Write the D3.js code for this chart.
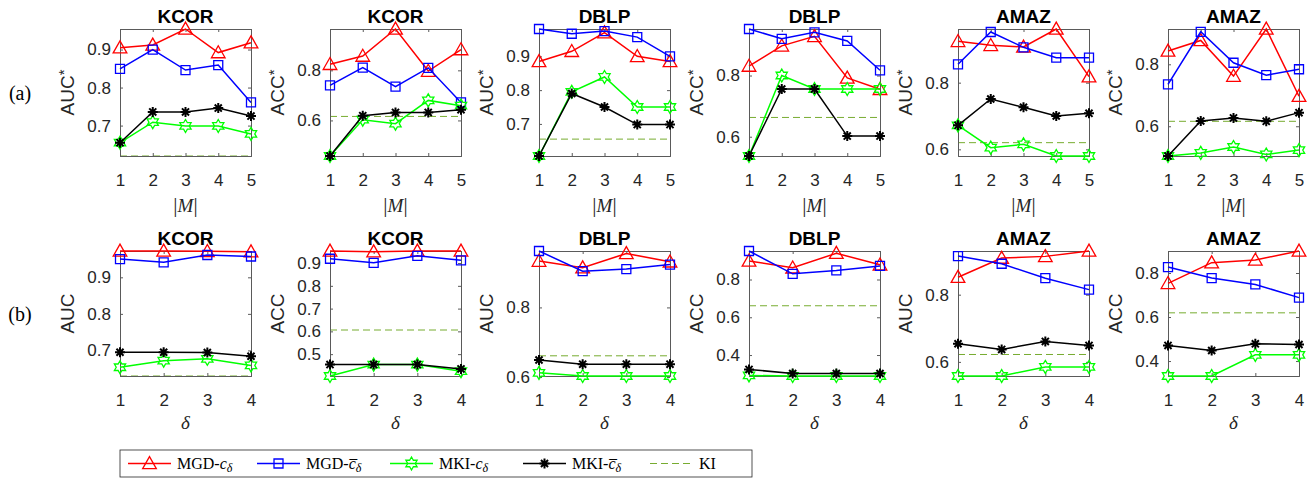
<!DOCTYPE html>
<html lang="en">
<head>
<meta charset="utf-8">
<title>MGD vs MKI</title>
<script src="https://d3js.org/d3.v7.min.js"></script>
<style>
  body { margin: 0; background: #fff; }
  text { font-family: "Liberation Sans", Arial, sans-serif; }
  .ttl { font-size: 19px; font-weight: bold; fill: #000; }
  .serif { font-family: "Liberation Serif", "Times New Roman", serif; }
</style>
</head>
<body>
<div id="container"></div>
<script>
// titles / labels
var titles = ["KCOR", "KCOR", "DBLP", "DBLP", "AMAZ", "AMAZ"];
var yLabelsA = ["AUC", "ACC", "AUC", "ACC", "AUC", "ACC"];
var mSizes = [1, 2, 3, 4, 5];
var deltas = [1, 2, 3, 4];

// y tick values per panel
var yTicksA = [[0.7, 0.8, 0.9], [0.6, 0.8], [0.7, 0.8, 0.9], [0.6, 0.8], [0.6, 0.8], [0.6, 0.8]];
var yTicksB = [[0.7, 0.8, 0.9], [0.5, 0.6, 0.7, 0.8, 0.9], [0.6, 0.8], [0.4, 0.6, 0.8], [0.6, 0.8], [0.4, 0.6, 0.8]];

// row (a): values vs |M|
var aMgdC = [
  [0.905, 0.912, 0.954, 0.892, 0.918],
  [0.824, 0.857, 0.965, 0.797, 0.883],
  [0.885, 0.915, 0.970, 0.900, 0.885],
  [0.831, 0.897, 0.928, 0.792, 0.755],
  [0.924, 0.912, 0.907, 0.961, 0.818],
  [0.843, 0.877, 0.762, 0.914, 0.697]
];
var aMgdCbar = [
  [0.849, 0.900, 0.846, 0.859, 0.761],
  [0.740, 0.811, 0.735, 0.810, 0.672],
  [0.981, 0.967, 0.975, 0.957, 0.900],
  [0.952, 0.920, 0.941, 0.913, 0.817],
  [0.855, 0.952, 0.906, 0.875, 0.875],
  [0.735, 0.905, 0.805, 0.765, 0.784]
];
var aMkiC = [
  [0.655, 0.709, 0.699, 0.699, 0.678],
  [0.458, 0.603, 0.587, 0.680, 0.659],
  [0.605, 0.795, 0.839, 0.750, 0.750],
  [0.537, 0.800, 0.756, 0.756, 0.756],
  [0.672, 0.605, 0.615, 0.580, 0.580],
  [0.504, 0.514, 0.533, 0.509, 0.523]
];
var aMkiCbar = [
  [0.655, 0.736, 0.736, 0.746, 0.725],
  [0.458, 0.619, 0.632, 0.632, 0.643],
  [0.605, 0.790, 0.750, 0.698, 0.698],
  [0.537, 0.756, 0.756, 0.602, 0.602],
  [0.672, 0.751, 0.726, 0.700, 0.708],
  [0.504, 0.617, 0.627, 0.616, 0.644]
];
var aKI = [0.620, 0.616, 0.655, 0.663, 0.620, 0.616];

// row (b): values vs delta
var bMgdC = [
  [0.972, 0.972, 0.971, 0.970],
  [0.953, 0.950, 0.953, 0.953],
  [0.933, 0.914, 0.955, 0.931],
  [0.898, 0.862, 0.939, 0.878],
  [0.852, 0.909, 0.914, 0.930],
  [0.753, 0.847, 0.859, 0.900]
];
var bMgdCbar = [
  [0.950, 0.941, 0.961, 0.957],
  [0.919, 0.901, 0.932, 0.912],
  [0.962, 0.904, 0.910, 0.923],
  [0.951, 0.830, 0.848, 0.872],
  [0.915, 0.892, 0.849, 0.815],
  [0.827, 0.777, 0.748, 0.688]
];
var bMkiC = [
  [0.654, 0.672, 0.677, 0.659],
  [0.404, 0.454, 0.454, 0.425],
  [0.612, 0.603, 0.603, 0.603],
  [0.292, 0.289, 0.289, 0.289],
  [0.558, 0.558, 0.585, 0.585],
  [0.332, 0.332, 0.428, 0.428]
];
var bMkiCbar = [
  [0.695, 0.695, 0.694, 0.684],
  [0.454, 0.454, 0.454, 0.435],
  [0.649, 0.637, 0.637, 0.637],
  [0.324, 0.302, 0.302, 0.302],
  [0.654, 0.637, 0.661, 0.649],
  [0.471, 0.448, 0.478, 0.475]
];
var bKI = [0.630, 0.606, 0.661, 0.661, 0.622, 0.619];

var w = 1315, h = 481;
var svg = d3.select("#container").append("svg")
  .attr("width", w).attr("height", h)
  .style("background-color", "#fff");

var panelW = 131;
var axisColor = "#5a5a5a";
var rows = [
  { top: 29, bottom: 156, xs: mSizes, ticks: yTicksA, star: true, tag: "(a)",
    series: [aMgdC, aMgdCbar, aMkiC, aMkiCbar], ki: aKI },
  { top: 251, bottom: 376, xs: deltas, ticks: yTicksB, star: false, tag: "(b)",
    series: [bMgdC, bMgdCbar, bMkiC, bMkiCbar], ki: bKI }
];

// marker shapes
function triPath(s) {
  var r = s / 2;
  return "M0," + (-r * 1.05) + "L" + (r * 1.05) + "," + (r * 0.8) + "L" + (-r * 1.05) + "," + (r * 0.8) + "Z";
}
function sqPath(s) {
  var r = s / 2;
  return "M" + (-r) + "," + (-r) + "H" + r + "V" + r + "H" + (-r) + "Z";
}
function hexPath(s) {
  var ro = s / 2, ri = ro * 0.577, p = [];
  for (var i = 0; i < 12; i++) {
    var a = -Math.PI / 2 + i * Math.PI / 6, r = i % 2 ? ri : ro;
    p.push([r * Math.cos(a), r * Math.sin(a)]);
  }
  return "M" + p.map(function (d) { return d[0].toFixed(2) + "," + d[1].toFixed(2); }).join("L") + "Z";
}
function astPath(s) {
  var r = s / 2, d = "";
  for (var i = 0; i < 4; i++) {
    var a = i * Math.PI / 4;
    d += "M" + (r * Math.cos(a)).toFixed(2) + "," + (r * Math.sin(a)).toFixed(2) +
         "L" + (-r * Math.cos(a)).toFixed(2) + "," + (-r * Math.sin(a)).toFixed(2);
  }
  return d;
}

var styles = [
  { color: "#ff0000", marker: triPath, size: 13, mw: 1.3 },
  { color: "#0000ff", marker: sqPath, size: 9, mw: 1.3 },
  { color: "#00ff00", marker: hexPath, size: 13, mw: 1.3 },
  { color: "#000000", marker: astPath, size: 10, mw: 2 }
];
var kiColor = "#77ac30";

rows.forEach(function (row, ri) {
  svg.append("text").attr("class", "serif")
    .attr("x", 20).attr("y", (row.top + row.bottom) / 2 + 7)
    .attr("text-anchor", "middle").style("font-size", "20px").text(row.tag);

  titles.forEach(function (t, pi) {
    var left = Math.round(120 + pi * 209.5);
    var g = svg.append("g").attr("transform", "translate(" + left + ",0)");
    var all = [row.ki[pi]];
    row.series.forEach(function (s) { all = all.concat(s[pi]); });
    var y = d3.scaleLinear().domain(d3.extent(all)).range([row.bottom, row.top]);
    var x = d3.scaleLinear().domain(d3.extent(row.xs)).range([0, panelW]);

    // KI dashed line
    g.append("line")
      .attr("x1", 0).attr("x2", panelW)
      .attr("y1", y(row.ki[pi])).attr("y2", y(row.ki[pi]))
      .attr("stroke", kiColor).attr("stroke-width", 1)
      .attr("stroke-dasharray", "7,4");

    // axes box
    var yAxis = d3.axisLeft(y).tickValues(row.ticks[pi]).tickSize(-3).tickPadding(9)
      .tickFormat(d3.format(".1f"));
    var yAxisR = d3.axisRight(y).tickValues(row.ticks[pi]).tickSize(-3).tickFormat("");
    var xAxis = d3.axisBottom(x).tickValues(row.xs).tickSize(-3).tickPadding(18)
      .tickFormat(d3.format("d"));
    var xAxisT = d3.axisTop(x).tickValues(row.xs).tickSize(-3).tickFormat("");

    g.append("g").call(yAxis);
    g.append("g").attr("transform", "translate(" + panelW + ",0)").call(yAxisR);
    g.append("g").attr("transform", "translate(0," + row.bottom + ")").call(xAxis);
    g.append("g").attr("transform", "translate(0," + row.top + ")").call(xAxisT);
    g.selectAll(".domain").attr("stroke", axisColor).attr("stroke-width", 1);
    g.selectAll(".tick line").attr("stroke", axisColor).attr("stroke-width", 1);
    g.selectAll(".tick text").attr("fill", "#262626")
      .style("font-size", "17px").style("font-family", "'Liberation Sans', Arial, sans-serif");

    // series
    row.series.forEach(function (s, si) {
      var st = styles[si];
      var vals = s[pi];
      var line = d3.line().x(function (d, i) { return x(row.xs[i]); }).y(function (d) { return y(d); });
      g.append("path").datum(vals)
        .attr("d", line).attr("fill", "none")
        .attr("stroke", st.color).attr("stroke-width", 1.5);
      g.selectAll(".m" + si).data(vals).enter().append("path")
        .attr("transform", function (d, i) { return "translate(" + x(row.xs[i]) + "," + y(d) + ")"; })
        .attr("d", st.marker(st.size))
        .attr("fill", "none").attr("stroke", st.color).attr("stroke-width", st.mw);
    });

    // title
    g.append("text").attr("class", "ttl")
      .attr("x", panelW / 2).attr("y", row.top - 6)
      .attr("text-anchor", "middle").text(t);

    // y label
    var yl = g.append("text")
      .attr("transform", "translate(-53," + (row.top + row.bottom) / 2 + ") rotate(-90)")
      .attr("text-anchor", "middle").attr("dy", "0.35em")
      .style("font-size", "19px").attr("fill", "#262626");
    yl.append("tspan").text(yLabelsA[pi]);
    if (row.star) yl.append("tspan").attr("dy", "-5").style("font-size", "15px").text("*");

    // x label
    var xl = g.append("text").attr("class", "serif")
      .attr("x", panelW / 2).attr("text-anchor", "middle").attr("fill", "#262626");
    if (ri === 0) {
      xl.attr("y", row.bottom + 56).style("font-size", "21px");
      xl.append("tspan").text("|");
      xl.append("tspan").style("font-style", "italic").style("font-size", "19px").text("M");
      xl.append("tspan").text("|");
    } else {
      xl.attr("y", row.bottom + 53).style("font-size", "19px").style("font-style", "italic").text("δ");
    }
  });
});

// legend
var legendNames = [
  { base: "MGD-", bar: false },
  { base: "MGD-", bar: true },
  { base: "MKI-", bar: false },
  { base: "MKI-", bar: true }
];
var lg = svg.append("g").attr("transform", "translate(120,450)");
lg.append("rect").attr("width", 632).attr("height", 27)
  .attr("fill", "#fff").attr("stroke", "#262626").attr("stroke-width", 0.8);
var entryX = [8, 137, 270, 403, 530];
legendNames.forEach(function (n, i) {
  var st = styles[i];
  var ex = entryX[i];
  lg.append("line").attr("x1", ex).attr("x2", ex + 43).attr("y1", 13.5).attr("y2", 13.5)
    .attr("stroke", st.color).attr("stroke-width", 1.5);
  lg.append("path").attr("transform", "translate(" + (ex + 21.5) + ",13.5)")
    .attr("d", st.marker(st.size)).attr("fill", "none")
    .attr("stroke", st.color).attr("stroke-width", st.mw);
  var t = lg.append("text").attr("class", "serif")
    .attr("x", ex + 49).attr("y", 19).style("font-size", "16px").attr("fill", "#000");
  t.append("tspan").text(n.base);
  t.append("tspan").style("font-style", "italic").text(n.bar ? "c\u0305" : "c");
  t.append("tspan").style("font-style", "italic").style("font-size", "12px").attr("dy", 3).text("δ");
});
lg.append("line").attr("x1", entryX[4]).attr("x2", entryX[4] + 43).attr("y1", 13.5).attr("y2", 13.5)
  .attr("stroke", kiColor).attr("stroke-width", 1).attr("stroke-dasharray", "7,4");
lg.append("text").attr("class", "serif")
  .attr("x", entryX[4] + 49).attr("y", 19).style("font-size", "16px").text("KI");
</script>
</body>
</html>
